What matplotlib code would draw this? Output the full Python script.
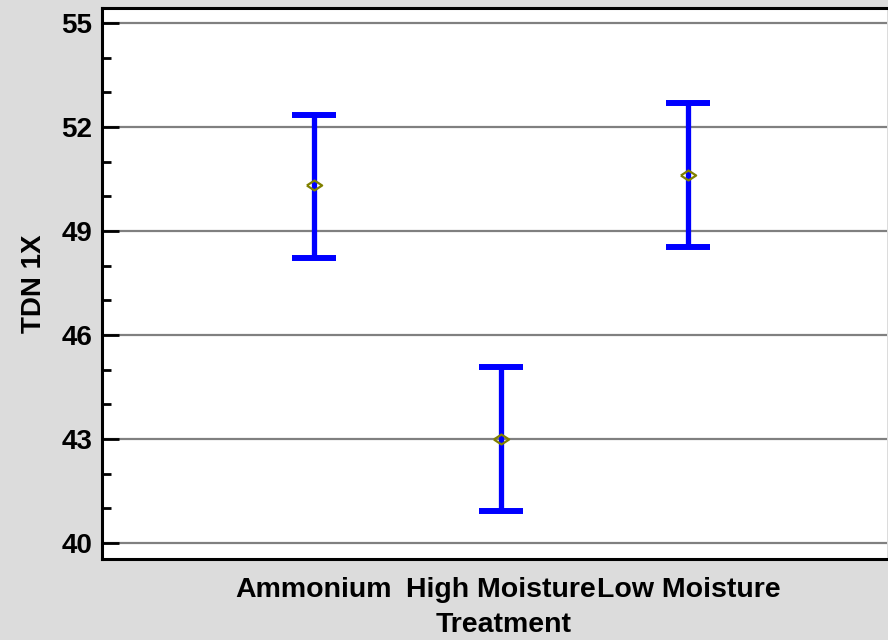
import matplotlib
matplotlib.use("Agg")
import matplotlib.pyplot as plt
from matplotlib.ticker import MultipleLocator

plt.rcParams['font.family'] = ['Liberation Sans', 'DejaVu Sans']
plt.rcParams['font.weight'] = 'bold'

treatments = ['Ammonium', 'High Moisture', 'Low Moisture']
means = [50.33, 43.0, 50.62]
lower = [48.22, 40.92, 48.54]
upper = [52.35, 45.08, 52.69]

xpos = [1, 2, 3]
err_lo = [m - l for m, l in zip(means, lower)]
err_hi = [u - m for m, u in zip(means, upper)]

fig = plt.figure(figsize=(8.88, 6.4), dpi=100, facecolor='#dcdcdc')
ax = fig.add_axes([0.1149, 0.1266, 0.884, 0.8609])
ax.set_facecolor('white')

for y in range(40, 56, 3):
    ax.axhline(y, color='#808080', lw=1.6, zorder=1)

ax.errorbar(xpos, means, yerr=[err_lo, err_hi], fmt='none', ecolor='#0000ff',
            elinewidth=3.8, capsize=16, capthick=4.3, zorder=3)
# flat diamond like the original marker
diamond = [(-1, 0), (0, 0.65), (1, 0), (0, -0.65), (-1, 0)]
ax.plot(xpos, means, linestyle='none', marker=diamond, ms=11, mfc='none',
        mec='#808000', mew=1.6, zorder=4)

ax.set_xlim(-0.131, 4.06)
ax.set_ylim(39.54, 55.43)
ax.set_xticks(xpos)
ax.set_xticklabels(treatments, fontsize=20.5, fontweight='bold')
ax.yaxis.set_major_locator(MultipleLocator(3))
ax.yaxis.set_minor_locator(MultipleLocator(1))
ax.set_yticks(range(40, 56, 3))
ax.tick_params(axis='x', length=0, pad=13)
ax.tick_params(axis='y', which='major', direction='in', length=12, width=2,
               labelsize=20, pad=7)
ax.tick_params(axis='y', which='minor', direction='in', length=6.5, width=2)
for lbl in ax.get_yticklabels():
    lbl.set_fontweight('bold')

ax.set_xlabel('Treatment', fontsize=20.5, fontweight='bold')
ax.xaxis.set_label_coords(0.512, -0.097)
ax.xaxis.label.set_va('top')
ax.set_ylabel('TDN 1X', fontsize=20, fontweight='bold', labelpad=10)

for side in ['left', 'bottom', 'top']:
    ax.spines[side].set_linewidth(2.2)
ax.spines['right'].set_visible(False)

fig.savefig('out.png', dpi=100, facecolor=fig.get_facecolor())
